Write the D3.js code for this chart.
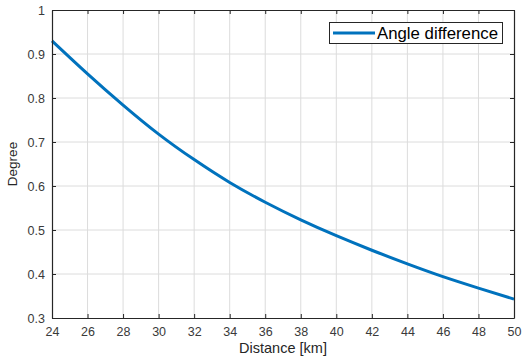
<!DOCTYPE html>
<html><head><meta charset="utf-8">
<script src="https://cdn.jsdelivr.net/npm/d3@7"></script>
<style>body{margin:0;background:#fff}svg{display:block}</style>
</head><body>
<script>
const distance = [24, 26, 28, 30, 32, 34, 36, 38, 40, 42, 44, 46, 48, 50];
const angleDiff = [0.930, 0.855, 0.784, 0.718, 0.660, 0.608, 0.563, 0.523, 0.487, 0.454, 0.423, 0.394, 0.368, 0.343];
const xTicks = [24, 26, 28, 30, 32, 34, 36, 38, 40, 42, 44, 46, 48, 50];
const yTicks = [0.3, 0.4, 0.5, 0.6, 0.7, 0.8, 0.9, 1];
const seriesName = "Angle difference";

const W = 524, H = 358;
const m = {l: 52, t: 10, r: 10, b: 40};
const svg = d3.select("body").append("svg").attr("width", W).attr("height", H);
const x = d3.scaleLinear().domain([24, 50]).range([m.l, W - m.r]);
const y = d3.scaleLinear().domain([0.3, 1]).range([H - m.b, m.t]);
const font = "Liberation Sans, Arial, sans-serif";
const axisCol = "#262626";

// grid
const g = svg.append("g");
g.selectAll(".gx").data(xTicks.slice(1, -1)).join("line")
  .attr("x1", d => x(d)).attr("x2", d => x(d)).attr("y1", y(0.3)).attr("y2", y(1))
  .attr("stroke", "#dcdcdc").attr("stroke-width", 1);
g.selectAll(".gy").data(yTicks.slice(1, -1)).join("line")
  .attr("y1", d => y(d)).attr("y2", d => y(d)).attr("x1", x(24)).attr("x2", x(50))
  .attr("stroke", "#dcdcdc").attr("stroke-width", 1);

// line
const line = d3.line().x((d, i) => x(distance[i])).y(d => y(d)).curve(d3.curveNatural);
svg.append("path").datum(angleDiff).attr("d", line)
  .attr("fill", "none").attr("stroke", "#0072BD").attr("stroke-width", 3);

// axes
const fmt = d => (d === 1 ? "1" : d3.format(".1f")(d));
const ax = svg.append("g").attr("transform", `translate(0,${y(0.3)})`)
  .call(d3.axisBottom(x).tickValues(xTicks).tickSizeInner(-4).tickSizeOuter(0).tickPadding(9));
const ay = svg.append("g").attr("transform", `translate(${x(24)},0)`)
  .call(d3.axisLeft(y).tickValues(yTicks).tickFormat(fmt).tickSizeInner(-4).tickSizeOuter(0).tickPadding(7));
const axTop = svg.append("g").attr("transform", `translate(0,${y(1)})`)
  .call(d3.axisTop(x).tickValues(xTicks).tickFormat("").tickSizeInner(-4).tickSizeOuter(0));
const ayR = svg.append("g").attr("transform", `translate(${x(50)},0)`)
  .call(d3.axisRight(y).tickValues(yTicks).tickFormat("").tickSizeInner(-4).tickSizeOuter(0));
[ax, ay, axTop, ayR].forEach(a => {
  a.select(".domain").attr("stroke", axisCol).attr("stroke-width", 1.2);
  a.selectAll(".tick line").attr("stroke", axisCol);
  a.selectAll("text").attr("fill", "#3a3a3a").attr("font-family", font).attr("font-size", 12.5);
});

// labels
svg.append("text").attr("x", (x(24) + x(50)) / 2).attr("y", 353).attr("text-anchor", "middle")
  .attr("font-family", font).attr("font-size", 14.5).attr("fill", axisCol).text("Distance [km]");
svg.append("text").attr("transform", `translate(17,${(y(0.3) + y(1)) / 2}) rotate(-90)`)
  .attr("text-anchor", "middle").attr("font-family", font).attr("font-size", 13.5).attr("fill", axisCol).text("Degree");

// legend
const lg = svg.append("g");
lg.append("rect").attr("x", 329.5).attr("y", 22.5).attr("width", 173).attr("height", 21)
  .attr("fill", "#fff").attr("stroke", axisCol).attr("stroke-width", 1);
lg.append("line").attr("x1", 333).attr("x2", 375).attr("y1", 33).attr("y2", 33)
  .attr("stroke", "#0072BD").attr("stroke-width", 3);
lg.append("text").attr("x", 377).attr("y", 38.5).attr("font-family", font).attr("font-size", 16.8)
  .attr("fill", "#000").text(seriesName);
</script>
</body></html>
